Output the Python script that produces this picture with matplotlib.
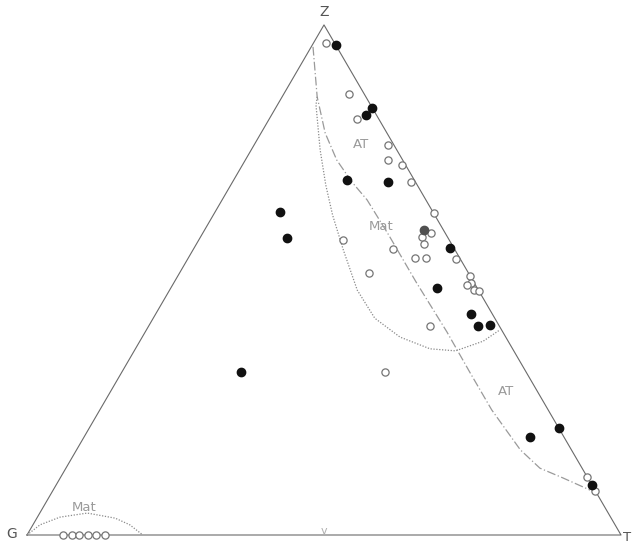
import matplotlib.pyplot as plt
import numpy as np

# ternary compositions in percent (Z, T; G = 100 - Z - T)
open_z = [96.4, 86.5, 81.6, 76.4, 73.5, 72.6, 69.3, 63.1, 59.2, 58.4, 57.0, 57.8, 56.0,
          54.3, 54.3, 54.1, 51.3, 50.8, 49.5, 49.0, 48.0, 47.8, 41.0, 32.0, 11.4, 8.7,
          0, 0, 0, 0, 0, 0]
open_t = [2.1, 10.9, 14.8, 22.5, 24.1, 26.8, 30.0, 36.9, 38.4, 37.3, 38.4, 24.3, 33.6,
          38.1, 40.0, 45.2, 32.0, 49.2, 50.0, 49.5, 51.3, 52.2, 47.3, 44.2, 88.6, 91.2,
          6.1, 7.5, 8.8, 10.2, 11.7, 13.1]

filled_z = [96.0, 83.8, 82.3, 69.5, 69.3, 56.3, 48.5, 43.3, 41.0, 41.1, 63.3, 58.2,
            32.0, 20.9, 19.3, 9.9]
filled_t = [4.0, 16.2, 15.9, 19.1, 26.1, 43.1, 44.8, 53.1, 55.4, 57.4, 11.0, 14.7,
            20.0, 79.1, 75.1, 90.1]

gray_z = [59.8]
gray_t = [36.9]

# field boundaries
at_z = [95.7, 85.9, 78.8, 73.5, 69.2, 65.7, 58.8, 49.6, 39.8, 31.8, 24.5, 16.7, 13.1, 11.2, 8.8]
at_t = [0.3, 5.9, 10.8, 15.4, 20.1, 24.4, 31.5, 40.7, 50.8, 58.7, 66.0, 74.7, 79.8, 84.6, 90.4]

mat_z = [85.9, 84.3, 75.5, 68.6, 62.7, 55.9, 48.0, 42.5, 38.8, 36.5, 36.1, 38.0, 40.2]
mat_t = [5.9, 6.5, 11.6, 16.0, 20.1, 25.3, 31.6, 37.3, 43.4, 49.6, 54.1, 57.8, 59.5]

mat2_z = [0, 2.0, 3.5, 4.3, 3.3, 2.0, 0]
mat2_t = [0, 1.2, 3.8, 8.0, 13.2, 16.3, 19.5]

labels = ["AT", "AT", "Mat", "Mat"]
label_z = [76.5, 28.2, 60.4, 5.3]
label_t = [18.0, 66.5, 29.4, 7.0]

H = np.sqrt(3) / 2


def xy(z, t):
    z = np.asarray(z, float) / 100
    t = np.asarray(t, float) / 100
    return t + z / 2, z * H


fig = plt.figure(figsize=(6.33, 5.44), dpi=100)
ax = fig.add_axes([0, 0, 1, 1])
ax.set_xlim(-27 / 594, 606 / 594)
ax.set_ylim(-9 / 589, 535 / 589)
ax.axis("off")

edge = "#6a6a6a"
tx, ty = xy([0, 0, 100, 0], [0, 100, 0, 0])
ax.plot(tx, ty, color=edge, lw=0.8)

x, y = xy(at_z, at_t)
ax.plot(x, y, color="#9a9a9a", lw=0.9, ls=(0, (7, 2, 1, 2)))
x, y = xy(mat_z, mat_t)
ax.plot(x, y, color="#8a8a8a", lw=0.9, ls=(0, (1, 1.3)))
x, y = xy(mat2_z, mat2_t)
ax.plot(x, y, color="#8a8a8a", lw=0.9, ls=(0, (1, 1.3)))

x, y = xy(open_z, open_t)
ax.plot(x, y, "o", ms=5.2, mfc="white", mec="#757575", mew=0.9, ls="none", zorder=3)
x, y = xy(filled_z, filled_t)
ax.plot(x, y, "o", ms=6, mfc="#111111", mec="#111111", ls="none", zorder=3)
x, y = xy(gray_z, gray_t)
ax.plot(x, y, "o", ms=6, mfc="#505050", mec="#505050", ls="none", zorder=3)

x, y = xy(label_z, label_t)
for s, xi, yi in zip(labels, x, y):
    ax.text(xi, yi, s, ha="center", va="center", fontsize=9.5, color="#9a9a9a")

ax.text(0.5, H + 0.022, "Z", ha="center", va="center", fontsize=10, color="#555555")
ax.text(-0.026, 0.002, "G", ha="center", va="center", fontsize=10, color="#555555")
ax.text(1.003, -0.004, "T", ha="left", va="center", fontsize=9.5, color="#555555")
ax.text(0.5, 0.006, "v", ha="center", va="center", fontsize=8, color="#b0b0b0")

fig.savefig("out.png", dpi=100)
